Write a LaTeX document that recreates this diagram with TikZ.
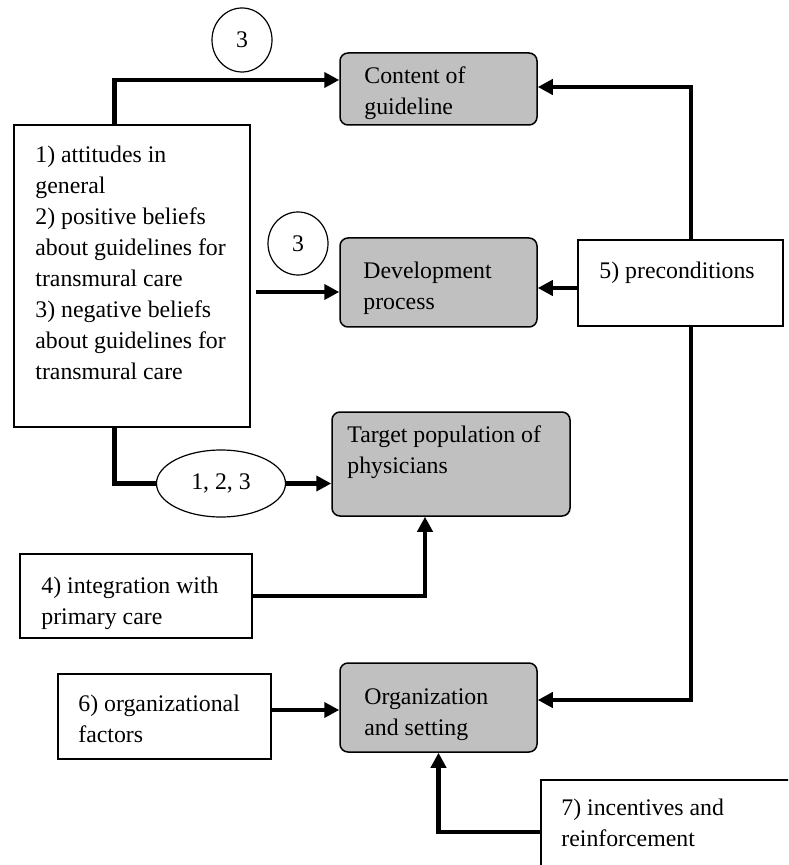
\documentclass[tikz,border=0pt]{standalone}
\usepackage{fontspec}
\setmainfont{Liberation Serif}
\usetikzlibrary{arrows.meta}
\usetikzlibrary{shapes.geometric}
\definecolor{boxgrey}{RGB}{192,192,192}
\tikzset{
  plainbox/.style={draw, line width=0.75pt, rectangle, inner sep=0pt},
  greybox/.style={draw, line width=0.75pt, fill=boxgrey, rectangle, rounded corners=4pt, inner sep=0pt},
  boxtext/.style={anchor=north west, align=left, inner sep=0pt, font=\fontsize{11.9}{15.5}\selectfont},
  tag/.style={draw, line width=0.6pt, ellipse, inner sep=0pt, font=\fontsize{11.9}{15.5}\selectfont},
  flow/.style={line width=2.4pt, -{Triangle[length=7.5pt,width=7.5pt]}},
  link/.style={line width=2.4pt}
}

\begin{document}
\begin{tikzpicture}[x=0.5pt, y=-0.5pt]
    \useasboundingbox (0,0) rectangle (788,865);
    \clip (0,0) rectangle (788,865);
    % boxes
    \node[plainbox, minimum width=118pt, minimum height=151pt] (attitudes) at (132,276) {};
    \node[greybox, minimum width=98.5pt, minimum height=36pt] (content) at (438.5,89) {};
    \node[greybox, minimum width=98.5pt, minimum height=44.5pt] (develop) at (438.5,282.5) {};
    \node[plainbox, minimum width=102.5pt, minimum height=43pt] (precond) at (680.5,283) {};
    \node[greybox, minimum width=119pt, minimum height=52pt] (target) at (451,464) {};
    \node[plainbox, minimum width=116pt, minimum height=42pt] (integr) at (136,596) {};
    \node[plainbox, minimum width=106.5pt, minimum height=42.5pt] (orgfact) at (164.5,716.5) {};
    \node[greybox, minimum width=98.5pt, minimum height=44.5pt] (orgset) at (438.5,707.5) {};
    \node[plainbox, minimum width=129.5pt, minimum height=52pt] (incent) at (670.5,832) {};
    % texts
    \node[boxtext] (attitudes-t) at (35,146) {1) attitudes in\\general\\2) positive beliefs\\about guidelines for\\transmural care\\3) negative beliefs\\about guidelines for\\transmural care};
    \node[boxtext] (content-t) at (364,66) {Content of\\guideline};
    \node[boxtext] (develop-t) at (363,262) {Development\\process};
    \node[boxtext] (precond-t) at (599,262) {5) preconditions};
    \node[boxtext] (target-t) at (347,425) {Target population of\\physicians};
    \node[boxtext] (integr-t) at (41,577) {4) integration with\\primary care};
    \node[boxtext] (orgfact-t) at (78,695) {6) organizational\\factors};
    \node[boxtext] (orgset-t) at (364,688) {Organization\\and setting};
    \node[boxtext] (incent-t) at (561,799) {7) incentives and\\reinforcement};
    % tags
    \node[tag, minimum width=30pt, minimum height=32pt] (three-a) at (242,40) {3};
    \node[tag, minimum width=30pt, minimum height=31.5pt] (three-b) at (298,243.5) {3};
    \node[tag, minimum width=64.5pt, minimum height=33.5pt] (onetwothree) at (221,483.5) {1, 2, 3};
    % arrows
    \draw[flow] (attitudes.north west) ++(101,0) |- ([yshift=4.5pt]content.west);
    \coordinate (devin) at ([yshift=-4.75pt]develop.west);
    \draw[flow] ([xshift=2.5pt]attitudes.east |- devin) -- (devin);
    \draw[link] (attitudes.south west) ++(101,0) |- (onetwothree.west);
    \draw[flow] (onetwothree.east) -- (onetwothree.east -| target.west);
    \draw[flow] (integr.east) -| ([xshift=-13pt]target.south);
    \draw[flow] ([yshift=-2.5pt]precond.west) -- ([yshift=-2.5pt]precond.west -| develop.east);
    \draw[flow] ([xshift=5.25pt]precond.north) |- ([yshift=1pt]content.east);
    \draw[flow] ([xshift=5.25pt]precond.south) |- ([yshift=3.75pt]orgset.east);
    \draw[flow] ([yshift=-1.25pt]orgset.west -| orgfact.east) -- ([yshift=-1.25pt]orgset.west);
    \draw[flow] (incent.west) -| (orgset.south);
\end{tikzpicture}
\end{document}
